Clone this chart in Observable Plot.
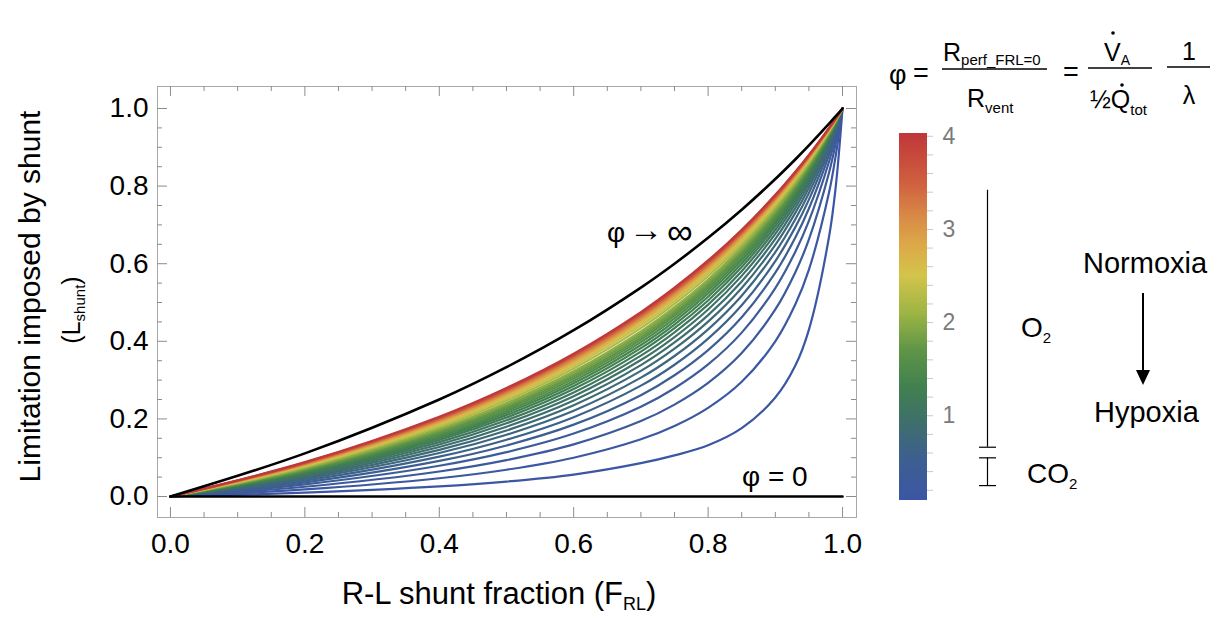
<!DOCTYPE html>
<html>
<head>
<meta charset="utf-8">
<script src="https://cdn.jsdelivr.net/npm/d3@7"></script>
<script src="https://cdn.jsdelivr.net/npm/@observablehq/plot@0.6"></script>
<style>
  body { margin: 0; background: #fff; }
  #wrap { position: relative; width: 1225px; height: 619px; overflow: hidden; background: #fff; }
</style>
</head>
<body>
<div id="wrap"></div>
<script>
// ---------------- data ----------------
// shunt fraction grid at which each curve was read
const F_RL = [0, 0.2, 0.4, 0.5, 0.6, 0.7, 0.75, 0.8, 0.85, 0.9, 0.93, 0.95, 0.98, 0.99, 1];

// phi value of each coloured curve
const phiValues = [0.1, 0.2, 0.3, 0.4, 0.5, 0.6, 0.7, 0.8, 0.9, 1.0,
                   1.1, 1.2, 1.3, 1.4, 1.5, 1.6, 1.7, 1.8, 1.9, 2.0,
                   2.2, 2.4, 2.6, 2.8, 3.0, 3.2, 3.4, 3.6, 3.8, 4.0];

// L_shunt of each coloured curve at F_RL
const L_curves = [
  [0, 0.0099, 0.0260, 0.0385, 0.0566, 0.0860, 0.1060, 0.1320, 0.1760, 0.2550, 0.3380, 0.4300, 0.6700, 0.8000, 1],
  [0, 0.0182, 0.0471, 0.0690, 0.1000, 0.1474, 0.1818, 0.2286, 0.2957, 0.4000, 0.4960, 0.5846, 0.7840, 0.8800, 1],
  [0, 0.0252, 0.0645, 0.0938, 0.1343, 0.1944, 0.2368, 0.2927, 0.3696, 0.4821, 0.5788, 0.6628, 0.8352, 0.9110, 1],
  [0, 0.0313, 0.0792, 0.1143, 0.1622, 0.2314, 0.2791, 0.3404, 0.4224, 0.5373, 0.6316, 0.7103, 0.8634, 0.9274, 1],
  [0, 0.0365, 0.0917, 0.1316, 0.1852, 0.2612, 0.3125, 0.3774, 0.4620, 0.5769, 0.6681, 0.7422, 0.8813, 0.9375, 1],
  [0, 0.0411, 0.1026, 0.1463, 0.2045, 0.2857, 0.3396, 0.4068, 0.4928, 0.6067, 0.6949, 0.7651, 0.8936, 0.9444, 1],
  [0, 0.0452, 0.1120, 0.1591, 0.2210, 0.3063, 0.3621, 0.4308, 0.5174, 0.6300, 0.7154, 0.7824, 0.9026, 0.9493, 1],
  [0, 0.0488, 0.1203, 0.1702, 0.2353, 0.3237, 0.3810, 0.4507, 0.5375, 0.6486, 0.7316, 0.7958, 0.9095, 0.9531, 1],
  [0, 0.0520, 0.1277, 0.1800, 0.2477, 0.3387, 0.3971, 0.4675, 0.5543, 0.6639, 0.7447, 0.8066, 0.9149, 0.9560, 1],
  [0, 0.0549, 0.1342, 0.1887, 0.2586, 0.3518, 0.4110, 0.4819, 0.5686, 0.6767, 0.7555, 0.8155, 0.9193, 0.9584, 1],
  [0, 0.0576, 0.1401, 0.1964, 0.2683, 0.3632, 0.4231, 0.4944, 0.5808, 0.6875, 0.7646, 0.8228, 0.9229, 0.9603, 1],
  [0, 0.0600, 0.1455, 0.2034, 0.2769, 0.3733, 0.4337, 0.5053, 0.5913, 0.6968, 0.7723, 0.8291, 0.9260, 0.9619, 1],
  [0, 0.0622, 0.1503, 0.2097, 0.2847, 0.3824, 0.4432, 0.5149, 0.6005, 0.7048, 0.7790, 0.8345, 0.9286, 0.9633, 1],
  [0, 0.0642, 0.1547, 0.2154, 0.2917, 0.3904, 0.4516, 0.5234, 0.6087, 0.7119, 0.7848, 0.8391, 0.9308, 0.9645, 1],
  [0, 0.0661, 0.1587, 0.2206, 0.2980, 0.3977, 0.4592, 0.5310, 0.6160, 0.7181, 0.7899, 0.8432, 0.9327, 0.9655, 1],
  [0, 0.0678, 0.1624, 0.2254, 0.3038, 0.4043, 0.4660, 0.5378, 0.6224, 0.7236, 0.7945, 0.8468, 0.9344, 0.9664, 1],
  [0, 0.0694, 0.1659, 0.2297, 0.3091, 0.4103, 0.4722, 0.5440, 0.6283, 0.7286, 0.7985, 0.8500, 0.9360, 0.9672, 1],
  [0, 0.0709, 0.1690, 0.2338, 0.3140, 0.4158, 0.4779, 0.5496, 0.6335, 0.7330, 0.8021, 0.8529, 0.9373, 0.9680, 1],
  [0, 0.0722, 0.1719, 0.2375, 0.3184, 0.4209, 0.4830, 0.5547, 0.6383, 0.7371, 0.8054, 0.8554, 0.9385, 0.9686, 1],
  [0, 0.0735, 0.1747, 0.2410, 0.3226, 0.4255, 0.4878, 0.5594, 0.6427, 0.7407, 0.8083, 0.8578, 0.9396, 0.9692, 1],
  [0, 0.0759, 0.1796, 0.2472, 0.3300, 0.4338, 0.4962, 0.5677, 0.6504, 0.7472, 0.8135, 0.8619, 0.9415, 0.9702, 1],
  [0, 0.0779, 0.1839, 0.2527, 0.3364, 0.4409, 0.5035, 0.5749, 0.6570, 0.7526, 0.8179, 0.8653, 0.9431, 0.9710, 1],
  [0, 0.0798, 0.1877, 0.2574, 0.3421, 0.4472, 0.5098, 0.5810, 0.6626, 0.7573, 0.8216, 0.8682, 0.9444, 0.9717, 1],
  [0, 0.0814, 0.1911, 0.2617, 0.3471, 0.4527, 0.5153, 0.5864, 0.6676, 0.7613, 0.8249, 0.8707, 0.9456, 0.9723, 1],
  [0, 0.0829, 0.1942, 0.2655, 0.3516, 0.4575, 0.5202, 0.5911, 0.6719, 0.7649, 0.8276, 0.8729, 0.9466, 0.9728, 1],
  [0, 0.0842, 0.1969, 0.2689, 0.3556, 0.4618, 0.5246, 0.5953, 0.6758, 0.7680, 0.8301, 0.8748, 0.9474, 0.9733, 1],
  [0, 0.0854, 0.1994, 0.2720, 0.3592, 0.4657, 0.5285, 0.5991, 0.6793, 0.7708, 0.8324, 0.8765, 0.9482, 0.9737, 1],
  [0, 0.0865, 0.2017, 0.2748, 0.3624, 0.4693, 0.5320, 0.6025, 0.6823, 0.7733, 0.8343, 0.8780, 0.9489, 0.9740, 1],
  [0, 0.0876, 0.2038, 0.2774, 0.3654, 0.4725, 0.5352, 0.6056, 0.6851, 0.7755, 0.8361, 0.8794, 0.9495, 0.9744, 1],
  [0, 0.0885, 0.2057, 0.2797, 0.3681, 0.4754, 0.5381, 0.6084, 0.6876, 0.7775, 0.8377, 0.8806, 0.9501, 0.9747, 1]
];

// limiting black curves
const L_phiInf = [0, 0.1111, 0.2500, 0.3333, 0.4286, 0.5385, 0.6000, 0.6667, 0.7391, 0.8182, 0.8692, 0.9048, 0.9608, 0.9802, 1];
const L_phi0   = [0, 0, 0, 0, 0, 0, 0, 0, 0, 0, 0, 0, 0, 0, 0];

// curve labels (positions in data units)
const labelInf = {F: 0.714, L: 0.680};
const labelZero = {F: 0.9, L: 0.052};

// colour bar
const colorPhi = [0.1, 0.5, 0.9, 1.3, 1.7, 2.1, 2.5, 2.8, 3.1, 3.5, 4.0];
const colorHex = ["#3b56a4", "#3d5e92", "#3e6e6e", "#41804f", "#5f9547", "#9db545",
                  "#d3c44b", "#dcab48", "#d98e47", "#cf5f3f", "#c0393a"];
const colorbarTicks = [1, 2, 3, 4];
const o2Range = [0.662, 3.42];
const co2Range = [0.25, 0.548];

// axes
const xMajor = [0, 0.2, 0.4, 0.6, 0.8, 1.0];
const yMajor = [0, 0.2, 0.4, 0.6, 0.8, 1.0];
const minorTicks = [0.05, 0.1, 0.15, 0.25, 0.3, 0.35, 0.45, 0.5, 0.55, 0.65, 0.7, 0.75, 0.85, 0.9, 0.95];

// ---------------- drawing ----------------
const FONT = '"Liberation Sans", Arial, Helvetica, sans-serif';
const W = 1225, H = 619;
const wrap = document.getElementById("wrap");

const rows = phiValues.flatMap((phi, i) => F_RL.map((f, j) => ({phi, F: f, L: L_curves[i][j]})));
const upperRows = F_RL.map((f, j) => ({F: f, L: L_phiInf[j]}));
const zeroRows = F_RL.map((f, j) => ({F: f, L: L_phi0[j]}));

const colorScale = {type: "linear", domain: colorPhi, range: colorHex, interpolate: "rgb", clamp: true};

const FW = 699, FH = 431, MAJ = 10, MIN = 5, TC = "#8c8c8c";
const fmt = d3.format(".1f");

const main = Plot.plot({
  width: W, height: H,
  marginLeft: 157, marginRight: 369, marginTop: 86, marginBottom: 102,
  style: {fontFamily: FONT, background: "white", position: "absolute", left: "0px", top: "0px"},
  x: {domain: [-0.0193, 1.0208]},
  y: {domain: [-0.0541, 1.0567]},
  color: colorScale,
  marks: [
    Plot.frame({stroke: "#a8a8a8", strokeWidth: 1}),
    Plot.ruleX(xMajor, {stroke: TC, insetTop: FH - MAJ}),
    Plot.ruleX(xMajor, {stroke: TC, insetBottom: FH - MAJ}),
    Plot.ruleX(minorTicks, {stroke: TC, insetTop: FH - MIN}),
    Plot.ruleX(minorTicks, {stroke: TC, insetBottom: FH - MIN}),
    Plot.ruleY(yMajor, {stroke: TC, insetRight: FW - MAJ}),
    Plot.ruleY(yMajor, {stroke: TC, insetLeft: FW - MAJ}),
    Plot.ruleY(minorTicks, {stroke: TC, insetRight: FW - MIN}),
    Plot.ruleY(minorTicks, {stroke: TC, insetLeft: FW - MIN}),
    Plot.axisX(xMajor, {tickSize: 0, tickPadding: 16, fontSize: 28, tickFormat: fmt, label: null}),
    Plot.axisY(yMajor, {tickSize: 0, tickPadding: 9, fontSize: 28, tickFormat: fmt, label: null}),
    Plot.line(rows, {x: "F", y: "L", z: "phi", stroke: "phi", strokeWidth: 2.2, curve: "catmull-rom"}),
    Plot.line(upperRows, {x: "F", y: "L", stroke: "#000", strokeWidth: 2.6, curve: "catmull-rom"}),
    Plot.line(zeroRows, {x: "F", y: "L", stroke: "#000", strokeWidth: 2.6})
  ]
});
wrap.appendChild(main);

// colour bar panel
const barSteps = d3.range(0.09, 4.03, 0.01);
const barTicksMinor = d3.range(0.2, 4.01, 0.2);
const cb = Plot.plot({
  width: W, height: H,
  marginLeft: 899, marginRight: 298, marginTop: 133, marginBottom: 119,
  style: {fontFamily: FONT, background: "transparent", position: "absolute", left: "0px", top: "0px"},
  x: {domain: [0, 1], axis: null},
  y: {domain: [0.09, 4.03], axis: null},
  color: colorScale,
  marks: [
    Plot.rect(barSteps, {y1: d => d, y2: d => Math.min(4.03, d + 0.02), fill: d => d + 0.005, shapeRendering: "crispEdges"}),
    Plot.ruleY(barTicksMinor, {stroke: "#c8c8c8", insetLeft: 22, dx: 6}),
    Plot.axisY(colorbarTicks, {anchor: "right", tickSize: 0, tickPadding: 15, fontSize: 23, color: "#7b7b7b", tickFormat: d3.format("d"), label: null}),
    Plot.ruleX([o2Range], {x: () => 1, y1: d => d[0], y2: d => d[1], dx: 60, stroke: "#000", strokeWidth: 1.2}),
    Plot.ruleX([co2Range], {x: () => 1, y1: d => d[0], y2: d => d[1], dx: 60, stroke: "#000", strokeWidth: 1.2}),
    Plot.ruleY([o2Range[0], co2Range[0], co2Range[1]], {stroke: "#000", strokeWidth: 1.2, insetLeft: 11, dx: 69})
  ]
});
wrap.appendChild(cb);

// text annotations overlay
const ov = d3.create("svg").attr("width", W).attr("height", H)
  .style("position", "absolute").style("left", "0px").style("top", "0px")
  .attr("font-family", FONT).attr("fill", "#000");

function label(g, x, y, parts, anchor = "start") {
  const t = g.append("text").attr("x", x).attr("y", y).attr("text-anchor", anchor);
  let cur = 0;
  for (const [s, size, off = 0] of parts) {
    t.append("tspan").attr("font-size", size).attr("dy", off - cur).text(s);
    cur = off;
  }
  return t;
}
function hline(x1, x2, y, w = 1.5) {
  ov.append("line").attr("x1", x1).attr("x2", x2).attr("y1", y).attr("y2", y)
    .attr("stroke", "#000").attr("stroke-width", w);
}

// curve labels placed through the main plot's scales
const sx = main.scale("x"), sy = main.scale("y");
label(ov, sx.apply(labelInf.F), sy.apply(labelInf.L) + 10,
  [["φ", 28], ["\u2009", 20], ["→", 34, -1], ["\u2009", 20, 0], ["∞", 36, 2]], "middle");
label(ov, sx.apply(labelZero.F), sy.apply(labelZero.L) + 10,
  [["φ = 0", 28]], "middle");

// equation
label(ov, 889, 84, [["φ", 27]]);
label(ov, 913, 82, [["=", 27]]);
hline(942, 1047, 69);
label(ov, 943, 61, [["R", 25], ["perf_FRL=0", 15, 4]]);
label(ov, 967, 107, [["R", 25], ["vent", 15, 6]]);
label(ov, 1063, 81, [["=", 27]]);
hline(1088, 1152, 68);
label(ov, 1104, 61, [["V", 25], ["A", 14, 4]]);
ov.append("circle").attr("cx", 1113).attr("cy", 33).attr("r", 1.8);
label(ov, 1090, 108, [["½", 25], ["Q", 25], ["tot", 15, 7]]);
ov.append("circle").attr("cx", 1122).attr("cy", 85).attr("r", 1.8);
hline(1167, 1210, 67);
label(ov, 1189, 60, [["1", 25]], "middle");
label(ov, 1189, 104, [["λ", 25]], "middle");

// right annotations
label(ov, 1083, 273, [["Normoxia", 29]]);
label(ov, 1094, 422, [["Hypoxia", 29]]);
ov.append("line").attr("x1", 1143).attr("x2", 1143).attr("y1", 293).attr("y2", 372)
  .attr("stroke", "#000").attr("stroke-width", 2);
ov.append("path").attr("d", "M1136,370L1150,370L1143,385Z").attr("fill", "#000");
label(ov, 1021, 337, [["O", 28], ["2", 15, 6]]);
label(ov, 1027, 483, [["CO", 28], ["2", 15, 6]]);

// axis titles
label(ov, 499, 604, [["R-L shunt fraction (F", 31], ["RL", 18, 6], [")", 31, 0]], "middle");
const gy1 = ov.append("g").attr("transform", "translate(40,296.5) rotate(-90)");
label(gy1, 0, 0, [["Limitation imposed by shunt", 30]], "middle");
const gy2 = ov.append("g").attr("transform", "translate(80,310) rotate(-90)");
label(gy2, 0, 0, [["(L", 25], ["shunt", 15, 5], [")", 25, 0]], "middle");

wrap.appendChild(ov.node());
</script>
</body>
</html>
